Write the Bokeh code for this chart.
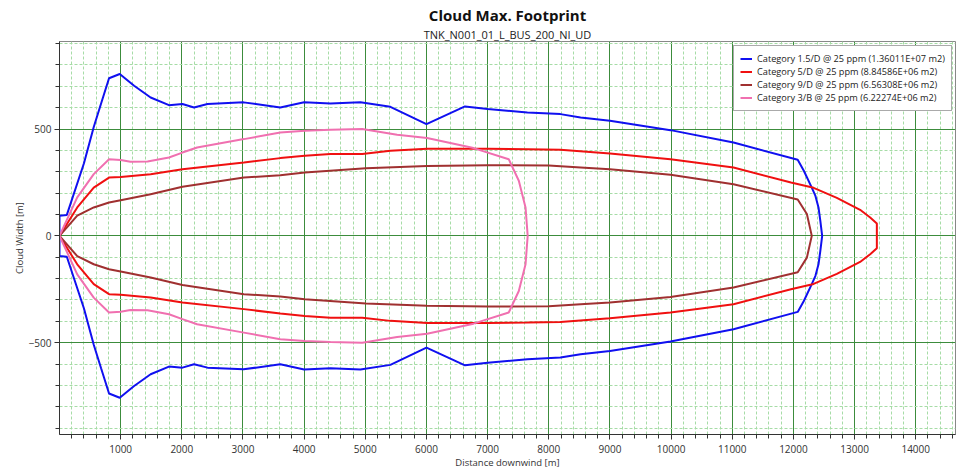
from bokeh.plotting import figure
from bokeh.models import FixedTicker, Title, Range1d
from bokeh.embed import file_html
from bokeh.resources import INLINE

# ---- data (upper half of each footprint contour; lower half is its mirror) ----
labels = [
    "Category 1.5/D @ 25 ppm (1.36011E+07 m2)",
    "Category 5/D @ 25 ppm (8.84586E+06 m2)",
    "Category 9/D @ 25 ppm (6.56308E+06 m2)",
    "Category 3/B @ 25 ppm (6.22274E+06 m2)",
]
colors = ["#1010f0", "#f01010", "#a03030", "#f070b0"]

blue_x = [0, 0, 120, 400, 560, 680, 810, 985, 1220, 1490, 1790, 2010, 2200, 2420, 3010,
          3610, 4000, 4430, 4920, 5410, 6000, 6630, 7000, 7650, 8190, 8520, 9000, 9990,
          11020, 12070, 12170, 12300, 12360, 12410, 12440, 12470]
blue_y = [0, 94, 98, 340, 510, 620, 738, 758, 703, 648, 612, 617, 601, 617, 625,
          601, 626, 620, 626, 604, 523, 606, 594, 578, 570, 554, 539, 495,
          437, 356, 305, 226, 187, 133, 70, 0]

red_x = [0, 290, 560, 810, 1000, 1490, 2010, 3015, 3610, 4010, 4430, 4950, 5410, 6010,
         7000, 7650, 8190, 9000, 9990, 11020, 11960, 12330, 12710, 13090, 13255, 13364, 13364]
red_y = [0, 133, 226, 273, 276, 289, 312, 343, 364, 375, 383, 383, 398, 408,
         408, 406, 403, 386, 359, 320, 250, 225, 178, 122, 86, 58, 0]

brown_x = [0, 290, 560, 810, 1000, 1490, 2010, 3015, 3610, 4010, 5010, 6010, 7000, 8000,
           8520, 9000, 9990, 11020, 12070, 12220, 12300]
brown_y = [0, 95, 133, 156, 167, 195, 230, 273, 284, 297, 317, 327, 331, 329,
           320, 312, 286, 242, 170, 102, 0]

pink_x = [0, 290, 560, 810, 1000, 1160, 1440, 1790, 2010, 2250, 3015, 3610, 4010, 4430,
          4950, 5520, 6010, 6770, 7345, 7510, 7620, 7655]
pink_y = [0, 180, 289, 359, 355, 347, 348, 367, 390, 414, 453, 484, 492, 497,
          500, 473, 458, 411, 359, 258, 133, 0]

x_major = [1000, 2000, 3000, 4000, 5000, 6000, 7000, 8000, 9000, 10000, 11000, 12000, 13000, 14000]
x_minor = list(range(200, 14650, 200))
y_major = [-500, 0, 500]
y_minor = list(range(-900, 901, 100))

series = [(blue_x, blue_y), (red_x, red_y), (brown_x, brown_y), (pink_x, pink_y)]

FONT = "Open Sans"

p = figure(width=966, height=471, output_backend="svg", toolbar_location=None,
           x_range=Range1d(0, 14650), y_range=Range1d(-930, 910),
           min_border_left=59, min_border_right=11, min_border_top=41, min_border_bottom=37,
           background_fill_color="white", border_fill_color="white")

p.title.text = "Cloud Max. Footprint"
p.title.align = "center"
p.title.text_font = FONT
p.title.text_font_size = "15px"
p.title.text_font_style = "bold"
p.title.text_color = "#111111"
p.title.standoff = 0
p.add_layout(Title(text="TNK_N001_01_L_BUS_200_NI_UD", align="center", text_font=FONT,
                   text_font_size="11px", text_font_style="normal", text_color="#222222",
                   standoff=0), "above")

for (xs, ys), c, lab in zip(series, colors, labels):
    full_x = list(xs) + list(reversed(xs))
    full_y = list(ys) + [-v for v in reversed(ys)]
    p.line(full_x, full_y, line_color=c, line_width=2, legend_label=lab)

p.xaxis.ticker = FixedTicker(ticks=x_major, minor_ticks=x_minor)
p.yaxis.ticker = FixedTicker(ticks=y_major, minor_ticks=y_minor)

for ax in (p.xaxis[0], p.yaxis[0]):
    ax.axis_line_color = "#333333"
    ax.major_tick_line_color = "#333333"
    ax.minor_tick_line_color = "#333333"
    ax.major_tick_in = 0
    ax.minor_tick_in = 0
    ax.major_tick_out = 5
    ax.minor_tick_out = 4
    ax.major_label_text_font = FONT
    ax.major_label_text_font_size = "10px"
    ax.major_label_text_color = "#333333"
    ax.axis_label_text_font = FONT
    ax.axis_label_text_font_size = "9.5px"
    ax.axis_label_text_font_style = "normal"
    ax.axis_label_text_color = "#333333"
    ax.major_label_standoff = 5
    ax.axis_label_standoff = 0

p.yaxis.major_label_standoff = 3
p.yaxis.axis_label_standoff = 0

p.xaxis.axis_label = "Distance downwind [m]"
p.yaxis.axis_label = "Cloud Width [m]"

for g in (p.xgrid[0], p.ygrid[0]):
    g.grid_line_color = "#3c8c3c"
    g.grid_line_width = 1
    g.minor_grid_line_color = "#a6dca6"
    g.minor_grid_line_dash = "3 2"
    g.minor_grid_line_width = 1

p.outline_line_color = "#888888"
p.outline_line_width = 1

lg = p.legend[0]
lg.location = (674, 323)
lg.margin = 0
lg.padding = 6
lg.spacing = 0
lg.label_text_font = FONT
lg.label_text_font_size = "9.2px"
lg.label_text_color = "#222222"
lg.label_height = 13
lg.glyph_height = 13
lg.glyph_width = 12
lg.label_standoff = 5
lg.border_line_color = "#555555"
lg.border_line_width = 1.5
lg.background_fill_alpha = 1

open("out.html", "w").write(file_html(p, INLINE))
